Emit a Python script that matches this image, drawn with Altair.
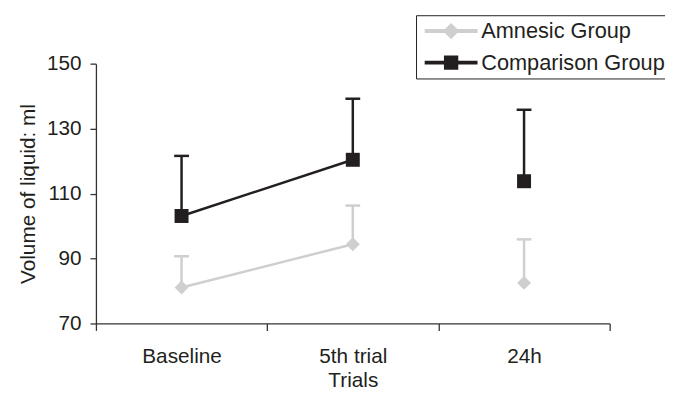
import altair as alt
import pandas as pd

trials = ["Baseline", "5th trial", "24h"]
groups = ["Amnesic Group", "Comparison Group"]
amnesic_mean = [81.1, 94.4, 82.5]
amnesic_upper = [90.7, 106.3, 95.9]
comparison_mean = [103.1, 120.4, 113.8]
comparison_upper = [121.6, 139.2, 135.8]
connected_trials = ["Baseline", "5th trial"]

colors = ["#cfcfcf", "#231f20"]
shapes = ["diamond", "square"]
legend_shapes = ["M-1 -0.19 L7 -0.19 L7 0.19 L-1 0.19 Z M3 -1.1 L4.1 0 L3 1.1 L1.9 0 Z",
                 "M-1 -0.19 L7 -0.19 L7 0.19 L-1 0.19 Z M2 -1 L4 -1 L4 1 L2 1 Z"]

rows = []
for g, means, uppers in [(groups[0], amnesic_mean, amnesic_upper),
                         (groups[1], comparison_mean, comparison_upper)]:
    for t, m, u in zip(trials, means, uppers):
        rows.append({"trial": t, "group": g, "mean": m, "upper": u})
df = pd.DataFrame(rows)

FONT = "Liberation Sans"
TXT = "#231f20"

x = alt.X("trial:N", sort=trials,
          scale=alt.Scale(type="band", paddingInner=0, paddingOuter=0),
          axis=alt.Axis(tickBand="extent", labelAngle=0, title="Trials",
                        labelFontSize=21, titleFontSize=21, labelFont=FONT,
                        titleFont=FONT, labelColor=TXT, titleColor=TXT,
                        titleFontWeight="normal", tickSize=7, labelPadding=16,
                        titlePadding=3, domainColor="#333", tickColor="#333",
                        domainWidth=1.3, tickWidth=1.3))
y_scale = alt.Scale(domain=[70, 150], nice=False, zero=False)
y = alt.Y("mean:Q", scale=y_scale,
          axis=alt.Axis(values=[70, 90, 110, 130, 150], title="Volume of liquid: ml",
                        grid=False, labelFontSize=21, titleFontSize=21,
                        labelFont=FONT, titleFont=FONT, labelColor=TXT,
                        titleColor=TXT, titleFontWeight="normal", tickSize=6,
                        labelPadding=9, titlePadding=8, domainColor="#333",
                        tickColor="#333", domainWidth=1.3, tickWidth=1.3))

color_scale = alt.Scale(domain=groups, range=colors)

legend = alt.Legend(orient="none", legendX=324, legendY=-49, title=None,
                    symbolSize=169, labelFontSize=22, labelFont=FONT,
                    labelColor=TXT, labelOffset=39, rowPadding=10,
                    labelLimit=400, padding=5, strokeColor="#231f20",
                    fillColor="white", symbolOpacity=1)

base = alt.Chart(df)

err_rule = base.mark_rule(strokeWidth=2.5).encode(
    x=x, y=alt.Y("mean:Q", scale=y_scale), y2="upper:Q",
    color=alt.Color("group:N", scale=color_scale, legend=None))
err_cap = base.mark_tick(size=15, thickness=2.5, opacity=1).encode(
    x=x, y=alt.Y("upper:Q", scale=y_scale),
    color=alt.Color("group:N", scale=color_scale, legend=None))
lines = base.transform_filter(
    alt.FieldOneOfPredicate(field="trial", oneOf=connected_trials)
).mark_line(strokeWidth=2.5).encode(
    x=x, y=y, detail="group:N",
    color=alt.Color("group:N", scale=color_scale, legend=None))
point_layers = []
for g, shp in zip(groups, shapes):
    point_layers.append(
        base.transform_filter(alt.datum.group == g).mark_point(
            filled=True, size=200, opacity=1, shape=shp
        ).encode(x=x, y=y,
                 color=alt.Color("group:N", scale=color_scale, legend=None)))
legend_layer = base.transform_filter(alt.datum.trial == "none").mark_point(
    size=169, opacity=1, filled=True
).encode(
    x=x, y=y,
    fill=alt.Fill("group:N", scale=alt.Scale(domain=groups, range=colors), legend=legend),
    shape=alt.Shape("group:N", scale=alt.Scale(domain=groups, range=legend_shapes), legend=legend))

chart = alt.layer(legend_layer, err_rule, err_cap, lines, *point_layers).properties(
    width=520, height=263,
    autosize=alt.AutoSizeParams(type="none"),
    padding={"left": 89, "top": 54, "right": 56, "bottom": 65},
).configure(font=FONT).configure_view(stroke=None)

chart.save("out.html", embed_options={"renderer": "svg", "actions": False})
